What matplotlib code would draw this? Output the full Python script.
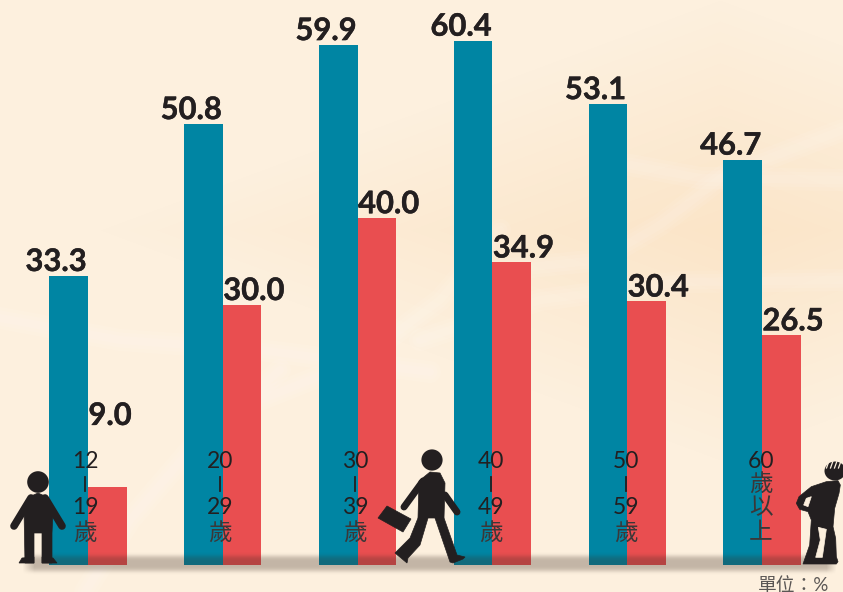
import numpy as np
import matplotlib
matplotlib.use("Agg")
import matplotlib.pyplot as plt
import matplotlib.patheffects as pe
from matplotlib.patches import Polygon, Circle, Ellipse

plt.rcParams["font.family"] = ["Lato", "Noto Sans CJK TC", "DejaVu Sans"]

# values
age_lines = [["12", "|", "19", "歲"], ["20", "|", "29", "歲"], ["30", "|", "39", "歲"],
             ["40", "|", "49", "歲"], ["50", "|", "59", "歲"], ["60", "歲", "以", "上"]]
blue_values = [33.3, 50.8, 59.9, 60.4, 53.1, 46.7]
red_values = [9.0, 30.0, 40.0, 34.9, 30.4, 26.5]
unit_label = "單位：%"

BLUE = "#0085a3"
RED = "#e94e50"
INK = "#231f20"
PAPER = "#fcefdd"
W, H = 843, 592

fig = plt.figure(figsize=(8.43, 5.92), dpi=100)

# background, pixel coords
bg = fig.add_axes([0, 0, 1, 1], zorder=0)
bg.set_xlim(0, W)
bg.set_ylim(H, 0)
bg.axis("off")
yy, xx = np.mgrid[0:H, 0:W]
t = np.clip(1 - (np.abs(yy - 230) / 230 + np.abs(xx - 720) / 620), 0, 1)[..., None]
base = np.array([253, 240, 222]) / 255
warm = np.array([251, 229, 200]) / 255
bg.imshow(base * (1 - t) + warm * t, extent=(0, W, H, 0), aspect="auto", zorder=0)

# pale streaks in the paper
streaks = [([500, 600, 660, 725, 843], [270, 260, 225, 175, 130]),
           ([630, 700, 843], [165, 178, 180]),
           ([843, 680, 540, 420], [280, 282, 300, 340]),
           ([85, 130, 190, 280], [592, 520, 450, 370]),
           ([0, 120, 260, 430], [318, 340, 350, 372]),
           ([260, 360, 440, 500], [400, 360, 300, 230])]
for sx, sy in streaks:
    for lw in (16, 11, 6):
        bg.plot(sx, sy, color="white", alpha=0.07, lw=lw, solid_capstyle="round", zorder=1)

# bars
ax = fig.add_axes([0, 0, 1, 1], zorder=1)
ax.patch.set_alpha(0)
ax.set_xlim(-88 / 134.8, (W - 88) / 134.8)
ax.set_ylim(-27 / 8.68, 565 / 8.68)
ax.axis("off")
x = np.arange(len(blue_values))
bar_w = 0.286
ax.bar(x - bar_w / 2, blue_values, bar_w, color=BLUE, lw=0)
ax.bar(x + bar_w / 2, red_values, bar_w, color=RED, lw=0)

heavy = [pe.withStroke(linewidth=0.3, foreground=INK)]
for i, (b, r) in enumerate(zip(blue_values, red_values)):
    ax.annotate(f"{b:.1f}", (i, b), xytext=(-0.5, 0), textcoords="offset points",
                ha="right", va="bottom", fontsize=22.3, fontweight="bold", color=INK,
                path_effects=heavy)
    # the 9.0 sits higher to clear the age label
    dy = 41 if i == 0 else -0.3
    ax.annotate(f"{r:.1f}", (i, r), xytext=(0.3, dy), textcoords="offset points",
                ha="left", va="bottom", fontsize=22.3, fontweight="bold", color=INK,
                path_effects=heavy)

# decoration layer
top = fig.add_axes([0, 0, 1, 1], zorder=2)
top.patch.set_alpha(0)
top.axis("off")

# ground shadow, also darkens bar feet
sh_y = np.exp(-((np.arange(H) - 563) / 8.0) ** 4)
sh_x = np.clip((np.arange(W) - 22) / 12, 0, 1) * np.clip((836 - np.arange(W)) / 10, 0, 1)
shadow = np.zeros((H, W, 4))
shadow[..., :3] = np.array([60, 45, 35]) / 255
shadow[..., 3] = 0.3 * np.outer(sh_y, sh_x)
top.imshow(shadow, extent=(0, W, H, 0), aspect="auto", zorder=1)
top.set_xlim(0, W)
top.set_ylim(H, 0)

# age labels
centers = 85 + 135.2 * x
line_y = [462, 484, 508, 533]
for c, lines in zip(centers, age_lines):
    for txt, ly in zip(lines, line_y):
        if txt == "|":
            top.plot([c, c], [477, 491], color=INK, lw=1.3, zorder=3)
            continue
        if txt.isdigit():
            top.text(c, ly, txt, ha="center", va="center", fontsize=16.5, color=INK, zorder=3)
        else:
            top.text(c, ly, txt, ha="center", va="center", fontsize=17, color="#3b3738", zorder=3)

top.text(794, 585, unit_label, ha="center", va="center", fontsize=13.5, color="#5a5654", zorder=3)


def shape(pts, color=INK):
    top.add_patch(Polygon(pts, closed=True, fc=color, ec=color, lw=0.5, zorder=4))


def limb(xs, ys, lw=5.5):
    top.plot(xs, ys, color=INK, lw=lw, solid_capstyle="round", zorder=4)


def from_crop(pts):
    # points traced on the 3x crop of the old man
    return [(783 + px / 3, 450 + py / 3) for px, py in pts]


# child
top.add_patch(Circle((38, 482), 10.8, fc=INK, ec="none", zorder=4))
shape([(24, 510), (29, 497), (38, 493), (47, 497), (53, 510), (52, 533), (52, 563), (42, 563),
       (42, 533), (34, 533), (34, 563), (25, 563)])
limb([31, 14], [498, 526])
limb([45, 62], [498, 526])
shape([(19, 563), (22, 558), (34, 557), (34, 563)])
shape([(42, 563), (42, 557), (53, 558), (57, 563)])

# walker
top.add_patch(Circle((432, 460), 10.6, fc=INK, ec="none", zorder=4))
shape([(419, 481), (430, 472), (440, 473), (445, 483), (444, 518), (418, 518)])
limb([423, 404], [481, 507], 5)
limb([445, 457], [495, 512], 5)
shape([(387, 506), (411, 519), (403, 532), (378, 518)])
shape([(418, 518), (428, 518), (420, 545), (408, 558), (407, 563), (395, 553), (410, 538)])
shape([(435, 518), (444, 518), (457, 555), (465, 557), (463, 559), (453, 563), (450, 562)])

# old man
top.add_patch(Ellipse((835, 471), 21, 19, fc=INK, ec="none", zorder=4))
for hx in (829, 833, 837, 841):
    top.plot([hx - 2.5, hx], [468, 461], color=PAPER, lw=0.9, zorder=5)
shape(from_crop([(130, 95), (165, 92), (172, 105), (168, 130), (155, 175), (150, 230), (158, 265),
                 (160, 320), (165, 335), (160, 342), (60, 342), (80, 285), (85, 210), (75, 185),
                 (50, 178), (40, 160), (48, 140), (85, 110)]))
shape(from_crop([(106, 232), (130, 238), (118, 322), (98, 322), (112, 270)]), PAPER)
shape(from_crop([(70, 145), (85, 140), (75, 170), (62, 165)]), PAPER)

fig.savefig("out.png", dpi=100)
